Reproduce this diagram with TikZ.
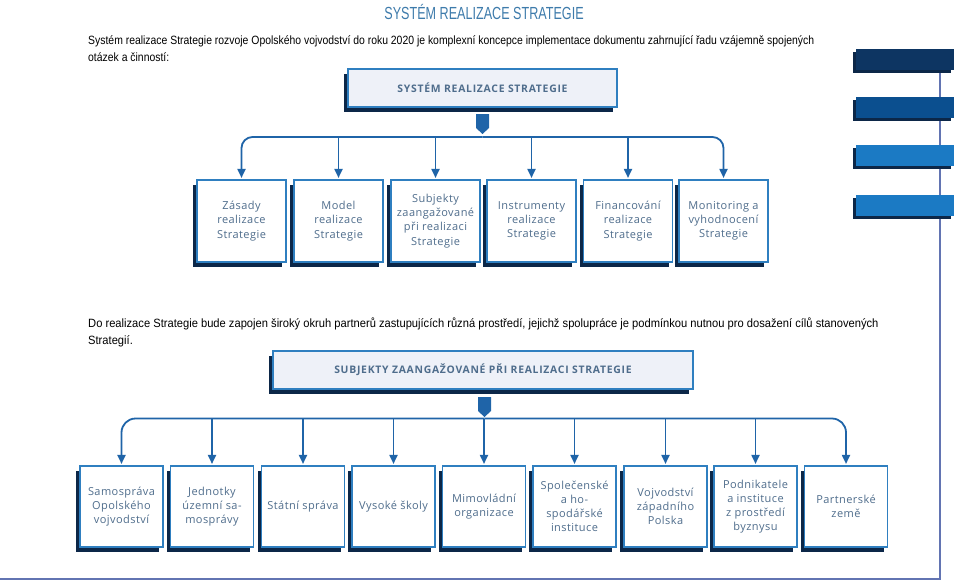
\documentclass[tikz,border=0pt]{standalone}
\usepackage{fontspec}
\setmainfont{Liberation Sans}
\newfontfamily\condfont{Liberation Sans}[FakeStretch=0.868]
\newfontfamily\condfontb{Liberation Sans}[FakeStretch=0.93]
\newfontfamily\titlefont{Liberation Sans}[FakeStretch=0.72]
\newfontfamily\boxfont{Open Sans}[LetterSpace=4]
\newfontfamily\headfont{Open Sans}[LetterSpace=7]
\usetikzlibrary{arrows.meta,shadows}
\definecolor{navy}{HTML}{0C2748}
\definecolor{conncol}{HTML}{1F64A8}
\definecolor{bordercol}{HTML}{2F7FC0}
\definecolor{boxtext}{HTML}{4F6D8C}
\definecolor{headfill}{HTML}{EEF1F8}
\definecolor{titlecol}{HTML}{3E7BAB}
\definecolor{framecol}{HTML}{6274B2}
\definecolor{barA}{HTML}{0D3562}
\definecolor{barB}{HTML}{0B4F8F}
\definecolor{barC}{HTML}{1B7AC4}
\tikzset{
  shadowed/.style={drop shadow={shadow xshift=-4pt, shadow yshift=-5pt, fill=navy, opacity=1}},
  itembox/.style={shadowed, draw=bordercol, line width=1.1pt, fill=white, inner sep=0pt,
    align=center, text=boxtext, font=\boxfont\fontsize{11}{14.2}\selectfont},
  rowA/.style={itembox, minimum width=89pt, minimum height=82pt},
  rowB/.style={itembox, minimum width=83pt, minimum height=81pt},
  headbox/.style={shadowed, draw=bordercol, line width=1.1pt, fill=headfill,
    minimum height=38pt, text=boxtext, font=\headfont\bfseries\fontsize{10.4}{12}\selectfont},
  conn/.style={draw=conncol, line width=1.8pt},
  arr/.style={conn, -{Triangle[width=8pt,length=9pt]}, shorten >=1.5pt},
  marker/.style={fill=conncol},
  bodytext/.style={anchor=base west, inner sep=0pt, align=left},
  bar/.style={drop shadow={shadow xshift=-3pt, shadow yshift=-3pt, fill=navy, opacity=1},
    minimum width=98pt, minimum height=21pt, inner sep=0pt}
}
\begin{document}
\begin{tikzpicture}[x=1pt,y=-1pt]
\useasboundingbox (0,0) rectangle (960,581);
% frame lines
\coordinate (fr1) at (940,70);
\coordinate (fr2) at (940,579);
\coordinate (fr3) at (0,579);
\draw[draw=framecol, line width=2.4pt] (fr1) -- (fr2) -- (fr3);
% bars
\node[bar, fill=barA] (barA) at (905,59) {};
\node[bar, fill=barB] (barB) at (905,107.5) {};
\node[bar, fill=barC] (barC) at (905,155.5) {};
\node[bar, fill=barC] (barD) at (905,205.5) {};
% title and text
\node[anchor=base, inner sep=0pt, text=titlecol, font=\titlefont\fontsize{17.5}{20}\selectfont] (title) at (484,19) {SYSTÉM REALIZACE STRATEGIE};
\node[bodytext, font=\condfont\fontsize{12}{17}\selectfont] (intro) at (88,61) {Systém realizace Strategie rozvoje Opolského vojvodství do roku 2020 je komplexní koncepce implementace dokumentu zahrnující řadu vzájemně spojených\\otázek a činností:};
\node[bodytext, font=\condfontb\fontsize{12}{17}\selectfont] (para) at (88,344) {Do realizace Strategie bude zapojen široký okruh partnerů zastupujících různá prostředí, jejichž spolupráce je podmínkou nutnou pro dosažení cílů stanovených\\Strategií.};
% top header
\node[headbox, minimum width=269pt] (h1) at (482.5,88) {SYSTÉM REALIZACE STRATEGIE};
\fill[marker] (476,114) -- (489,114) -- (489,128) -- (482.5,134) -- (476,128) -- cycle;
\coordinate (bus1) at (482.5,137);
% row A
\node[rowA] (a1) at (241.5,221) {Zásady\\realizace\\Strategie};
\node[rowA] (a2) at (338.5,221) {Model\\realizace\\Strategie};
\node[rowA] (a3) at (435.5,221) {Subjekty\\zaangažované\\při realizaci\\Strategie};
\node[rowA] (a4) at (531.5,221) {Instrumenty\\realizace\\Strategie};
\node[rowA] (a5) at (628,221) {Financování\\realizace\\Strategie};
\node[rowA] (a6) at (723.5,221) {Monitoring a\\vyhodnocení\\Strategie};
\draw[arr, rounded corners=11pt] (bus1) -| (a1.north);
\draw[arr, rounded corners=11pt] (bus1) -| (a6.north);
\foreach \n in {a2,a3,a4,a5} \draw[arr] (\n.north |- bus1) -- (\n.north);
% second header
\node[headbox, minimum width=420pt] (h2) at (483,370) {SUBJEKTY ZAANGAŽOVANÉ PŘI REALIZACI STRATEGIE};
\fill[marker] (478,397) -- (491,397) -- (491,411) -- (484.5,417) -- (478,411) -- cycle;
\coordinate (bus2) at (484.5,418.5);
% row B
\node[rowB] (b1) at (121.5,506.5) {Samospráva\\Opolského\\vojvodství};
\node[rowB] (b2) at (212,506.5) {Jednotky\\územní sa-\\mosprávy};
\node[rowB] (b3) at (303,506.5) {Státní správa};
\node[rowB] (b4) at (393.5,506.5) {Vysoké školy};
\node[rowB] (b5) at (484,506.5) {Mimovládní\\organizace};
\node[rowB] (b6) at (574.5,506.5) {Společenské\\a ho-\\spodářské\\instituce};
\node[rowB] (b7) at (665.5,506.5) {Vojvodství\\západního\\Polska};
\node[rowB] (b8) at (755.5,506.5) {Podnikatele\\a instituce\\z prostředí\\byznysu};
\node[rowB] (b9) at (846,506.5) {Partnerské\\země};
\draw[arr, rounded corners=14pt] (bus2) -| (b1.north);
\draw[arr, rounded corners=14pt] (bus2) -| (b9.north);
\foreach \n in {b2,b3,b4,b5,b6,b7,b8} \draw[arr] (\n.north |- bus2) -- (\n.north);
\end{tikzpicture}
\end{document}
